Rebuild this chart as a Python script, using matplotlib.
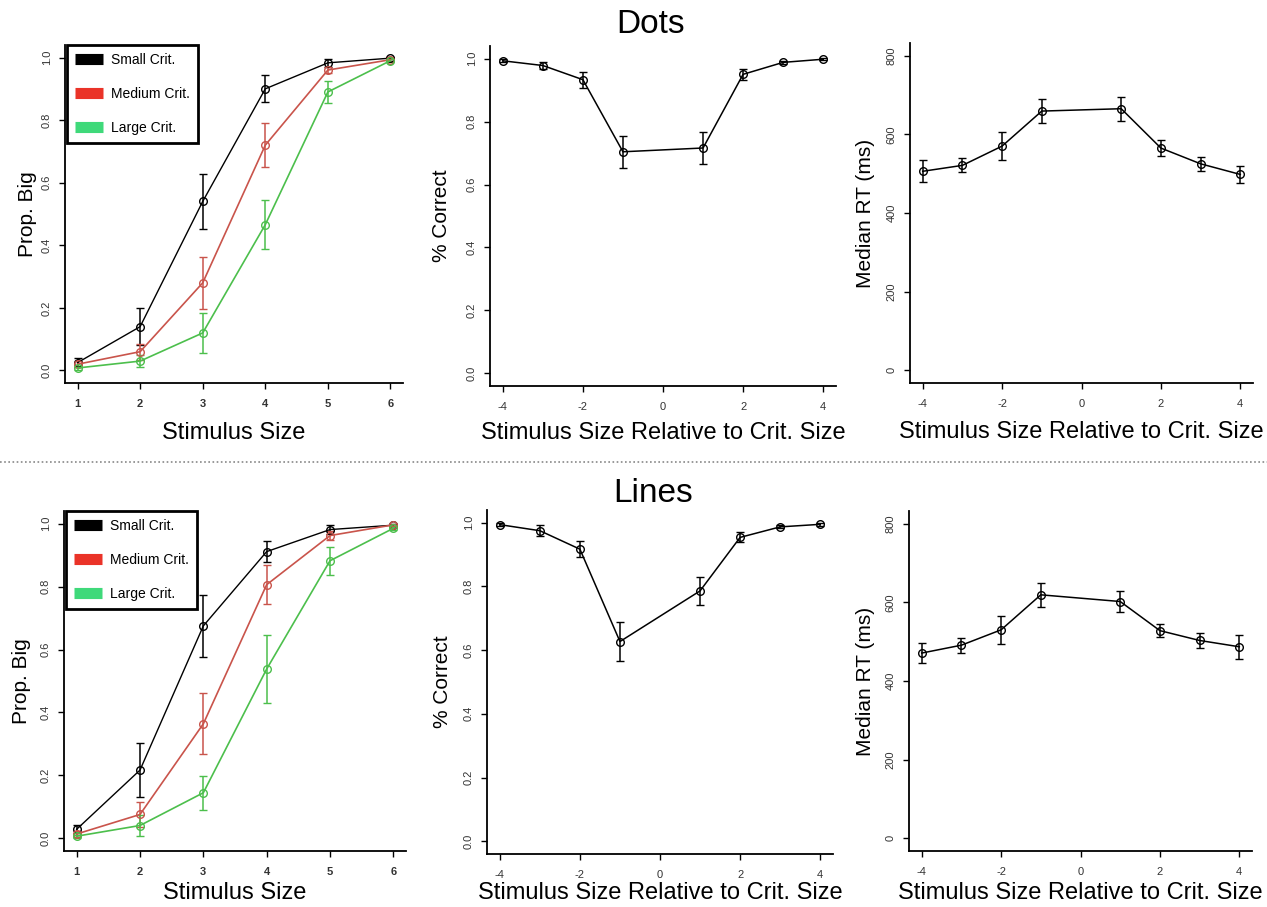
import matplotlib.pyplot as plt
from matplotlib.lines import Line2D

plt.rcParams['font.family'] = ['Liberation Sans', 'DejaVu Sans']

W, H = 1267, 907

stim_sizes = [1, 2, 3, 4, 5, 6]
rel_sizes = [-4, -3, -2, -1, 1, 2, 3, 4]
rel_ticks = [-4, -2, 0, 2, 4]
rel_tick_labels = ['-4', '-2', '0', '2', '4']
crit_labels = ['Small Crit.', 'Medium Crit.', 'Large Crit.']

# Dots: proportion "big" responses per criterion
dots_small = [0.025, 0.14, 0.54, 0.90, 0.983, 0.998]
dots_small_err = [0.015, 0.06, 0.088, 0.043, 0.013, 0.003]
dots_medium = [0.02, 0.06, 0.28, 0.72, 0.96, 0.993]
dots_medium_err = [0.01, 0.025, 0.083, 0.071, 0.01, 0.005]
dots_large = [0.008, 0.03, 0.12, 0.466, 0.89, 0.99]
dots_large_err = [0.006, 0.02, 0.064, 0.078, 0.035, 0.005]

# Dots: accuracy and RT vs. relative size
dots_acc = [0.993, 0.978, 0.933, 0.704, 0.716, 0.95, 0.988, 0.998]
dots_acc_err = [0.005, 0.011, 0.025, 0.051, 0.051, 0.018, 0.004, 0.003]
dots_rt = [506, 521, 570, 659, 665, 565, 525, 498]
dots_rt_err = [28, 18, 35, 31, 31, 21, 18, 22]

# Lines: proportion "big" responses per criterion
lines_small = [0.029, 0.217, 0.675, 0.911, 0.981, 0.995]
lines_small_err = [0.013, 0.087, 0.098, 0.034, 0.014, 0.004]
lines_medium = [0.014, 0.076, 0.364, 0.806, 0.962, 0.996]
lines_medium_err = [0.008, 0.039, 0.097, 0.062, 0.015, 0.004]
lines_large = [0.007, 0.041, 0.145, 0.538, 0.882, 0.985]
lines_large_err = [0.005, 0.033, 0.054, 0.108, 0.044, 0.005]

# Lines: accuracy and RT vs. relative size
lines_acc = [0.994, 0.975, 0.917, 0.627, 0.786, 0.954, 0.987, 0.995]
lines_acc_err = [0.004, 0.018, 0.025, 0.062, 0.045, 0.016, 0.005, 0.005]
lines_rt = [471, 491, 530, 619, 602, 528, 503, 487]
lines_rt_err = [25, 19, 36, 31, 26, 17, 19, 31]

line_colors = ['black', '#c9544b', '#4cbf4c']
legend_colors = ['black', '#ea3328', '#3fd97a']


def px_rect(left, right, top, bottom):
    return [left / W, 1 - bottom / H, (right - left) / W, (bottom - top) / H]


def style_axes(ax, xlim, ylim, xticks, xlabels, yticks, yfmt):
    ax.set_xlim(xlim)
    ax.set_ylim(ylim)
    ax.set_xticks(xticks)
    ax.set_xticklabels(xlabels)
    ax.set_yticks(yticks)
    ax.set_yticklabels([yfmt % v for v in yticks])
    for side in ['top', 'right']:
        ax.spines[side].set_visible(False)
    for side in ['left', 'bottom']:
        ax.spines[side].set_linewidth(1.3)
    ax.tick_params(axis='both', direction='out', length=4.5, width=1.0,
                   labelsize=8, labelcolor='#333333')
    ax.tick_params(axis='x', pad=7)
    ax.tick_params(axis='y', pad=5)
    for lab in ax.get_yticklabels():
        lab.set_rotation(90)
        lab.set_va('center')


def draw_series(ax, x, y, err, color, lw=1.0):
    ax.errorbar(x, y, yerr=err, color=color, lw=lw, elinewidth=1.1,
                capsize=3, capthick=1.1, marker='o', ms=5.5,
                mfc='none', mec=color, mew=1.0)


def prop_panel(rect, small, small_err, medium, medium_err, large, large_err):
    ax = fig.add_axes(rect)
    draw_series(ax, stim_sizes, small, small_err, line_colors[0], 1.0)
    draw_series(ax, stim_sizes, medium, medium_err, line_colors[1], 1.2)
    draw_series(ax, stim_sizes, large, large_err, line_colors[2], 1.2)
    style_axes(ax, (0.8, 6.2), (-0.04, 1.04), stim_sizes,
               [str(s) for s in stim_sizes], [0, 0.2, 0.4, 0.6, 0.8, 1.0], '%.1f')
    for lab in ax.get_xticklabels():
        lab.set_fontweight('bold')
    handles = [Line2D([0], [0], color=c, lw=8, solid_capstyle='butt') for c in legend_colors]
    leg = ax.legend(handles, crit_labels, loc='upper left', bbox_to_anchor=(0.005, 1.0),
                    borderaxespad=0, fontsize=10, handlelength=2.0, handletextpad=0.6,
                    labelspacing=1.43, borderpad=0.6, fancybox=False, framealpha=1)
    leg.get_frame().set_edgecolor('black')
    leg.get_frame().set_linewidth(2.0)
    ax.set_xlabel('Stimulus Size', fontsize=17)
    ax.set_ylabel('Prop. Big', fontsize=15)
    return ax


def acc_panel(rect, acc, acc_err):
    ax = fig.add_axes(rect)
    draw_series(ax, rel_sizes, acc, acc_err, 'black', 1.1)
    style_axes(ax, (-4.32, 4.32), (-0.04, 1.04), rel_ticks, rel_tick_labels,
               [0, 0.2, 0.4, 0.6, 0.8, 1.0], '%.1f')
    ax.set_xlabel('Stimulus Size Relative to Crit. Size', fontsize=17)
    ax.set_ylabel('% Correct', fontsize=15)
    return ax


def rt_panel(rect, rt, rt_err):
    ax = fig.add_axes(rect)
    draw_series(ax, rel_sizes, rt, rt_err, 'black', 1.1)
    style_axes(ax, (-4.32, 4.32), (-32, 832), rel_ticks, rel_tick_labels,
               [0, 200, 400, 600, 800], '%d')
    ax.set_xlabel('Stimulus Size Relative to Crit. Size', fontsize=17)
    ax.set_ylabel('Median RT (ms)', fontsize=15)
    return ax


def place_labels(ax, ylab_x, xlab_y):
    ax.yaxis.set_label_coords(ylab_x, 0.5)
    ax.yaxis.label.set_va('center')
    ax.xaxis.set_label_coords(0.5, xlab_y)
    ax.xaxis.label.set_va('center')


fig = plt.figure(figsize=(W / 100, H / 100), dpi=100)

ax1 = prop_panel(px_rect(65, 403, 45, 383), dots_small, dots_small_err,
                 dots_medium, dots_medium_err, dots_large, dots_large_err)
place_labels(ax1, -0.112, -0.148)
ax2 = acc_panel(px_rect(490, 836, 46, 386), dots_acc, dots_acc_err)
place_labels(ax2, -0.139, -0.137)
ax3 = rt_panel(px_rect(910, 1253, 43, 383), dots_rt, dots_rt_err)
place_labels(ax3, -0.131, -0.143)

ax4 = prop_panel(px_rect(64, 406, 511, 851), lines_small, lines_small_err,
                 lines_medium, lines_medium_err, lines_large, lines_large_err)
place_labels(ax4, -0.123, -0.124)
ax5 = acc_panel(px_rect(487, 833, 510, 854), lines_acc, lines_acc_err)
place_labels(ax5, -0.13, -0.114)
ax6 = rt_panel(px_rect(909, 1252, 511, 851), lines_rt, lines_rt_err)
place_labels(ax6, -0.128, -0.124)

fig.text(651 / W, 1 - 33 / H, 'Dots', fontsize=24, ha='center', va='baseline')
fig.text(653 / W, 1 - 502 / H, 'Lines', fontsize=24, ha='center', va='baseline')

# dotted separator between the two rows
fig.add_artist(Line2D([0, 1], [1 - 462 / H, 1 - 462 / H], transform=fig.transFigure,
                      color='#888888', lw=1.2, linestyle=(0, (1, 1.5))))

fig.savefig('out.png', dpi=100, facecolor='white')
